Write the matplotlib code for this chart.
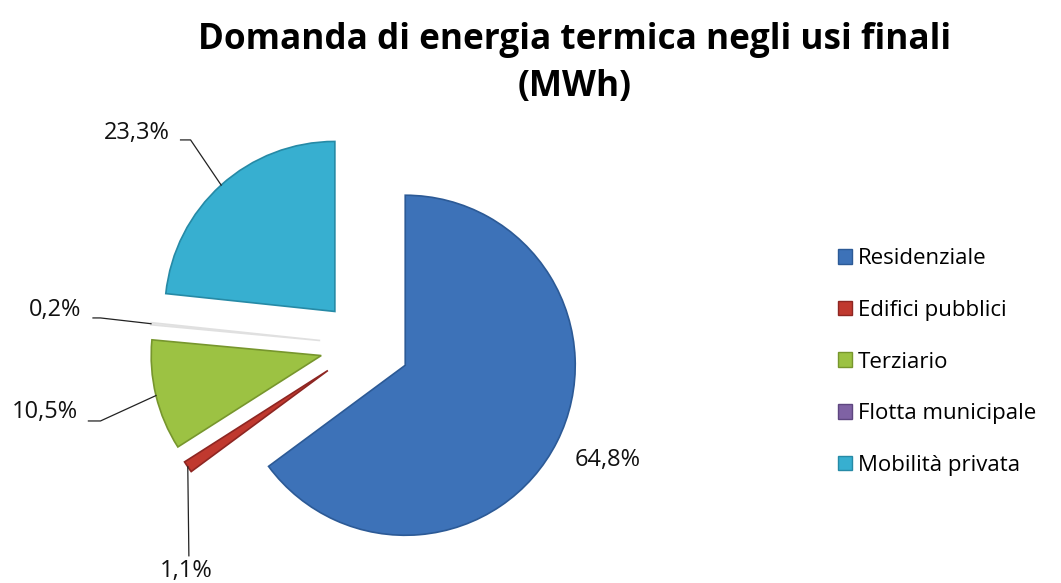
import matplotlib
matplotlib.use('Agg')
import matplotlib.pyplot as plt
from matplotlib.patches import Patch
import numpy as np

plt.rcParams['font.family'] = ['Open Sans', 'DejaVu Sans']

# dati
categorie = ['Residenziale', 'Edifici pubblici', 'Terziario', 'Flotta municipale', 'Mobilità privata']
valori = [64.8, 1.1, 10.5, 0.2, 23.3]
etichette = ['64,8%', '1,1%', '10,5%', '0,2%', '23,3%']

colori = ['#3d72b8', '#c0392f', '#9cc243', '#7f62a4', '#37afd0']
colori_fetta = ['#3d72b8', '#c0392f', '#9cc243', '#ececec', '#37afd0']
bordi = ['#2c5a96', '#8e2622', '#77962d', '#e0e0e0', '#268aa6']
esplodi = 0.265

fig = plt.figure(figsize=(10.61, 5.83), dpi=100)
ax = fig.add_axes([0, 0, 1, 1])
wedges, _ = ax.pie(valori, startangle=90, counterclock=False, colors=colori_fetta,
                   explode=[esplodi] * len(valori), radius=1,
                   wedgeprops=dict(linewidth=1.2))
for w, b in zip(wedges, bordi):
    w.set_edgecolor(b)
ax.set_xlim(-2.147, 4.094)
ax.set_ylim(-1.4, 2.029)
ax.set_aspect('auto')
ax.axis('off')

# posizione etichette (testo, gomito della linea guida)
pos_testo = [(1.43, -0.676), (-1.053, -1.33), (-1.882, -0.394), (-1.824, 0.206), (-1.341, 1.247)]
gomito = [None, (-1.036, -1.24), (-1.556, -0.447), (-1.556, 0.159), (-1.026, 1.206)]
inizio = [None, (-1.036, -1.24), (-1.627, -0.447), (-1.60, 0.159), (-1.085, 1.206)]

for w, txt, pt, gm, st in zip(wedges, etichette, pos_testo, gomito, inizio):
    ax.text(pt[0], pt[1], txt, ha='center', va='center', fontsize=17, color='#111111')
    if gm is None:
        continue
    ang = np.deg2rad((w.theta1 + w.theta2) / 2)
    cx, cy = w.center
    ancora = (cx + w.r * np.cos(ang), cy + w.r * np.sin(ang))
    ax.plot([st[0], gm[0], ancora[0]], [st[1], gm[1], ancora[1]], color='#222222', linewidth=0.9)

fig.text(0.542, 1 - 40 / 583, 'Domanda di energia termica negli usi finali',
         ha='center', va='center', fontsize=25.3, fontweight='bold')
fig.text(0.542, 1 - 87 / 583, '(MWh)', ha='center', va='center', fontsize=25.3, fontweight='bold')

maniglie = [Patch(facecolor=c, edgecolor=b) for c, b in zip(colori, ['#2c5a96', '#8e2622', '#77962d', '#5e4680', '#268aa6'])]
fig.legend(maniglie, categorie, loc='center left', bbox_to_anchor=(818 / 1061, 1 - 362 / 583),
           frameon=False, fontsize=16, handlelength=0.65, handleheight=0.65,
           handletextpad=0.25, labelspacing=1.38)

fig.savefig('out.png', dpi=100)
